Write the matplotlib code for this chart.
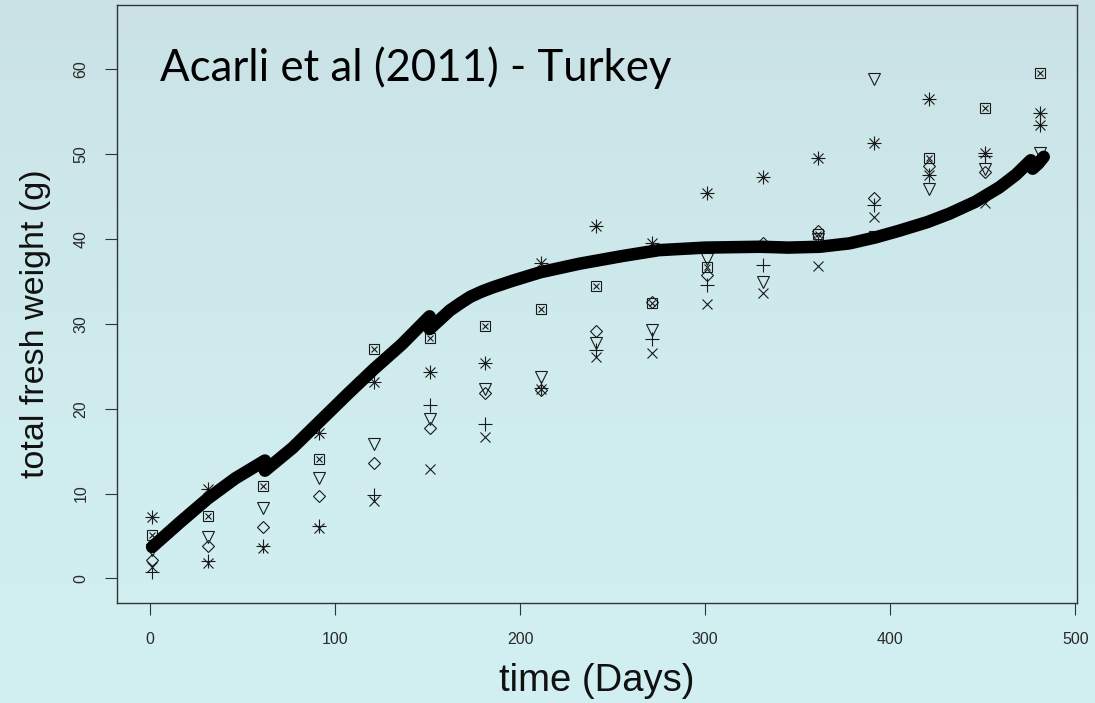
import matplotlib
matplotlib.use("Agg")
import matplotlib.pyplot as plt
import numpy as np

# sampling days (monthly)
days = [1, 31, 61, 91, 121, 151, 181, 211, 241, 271, 301, 331, 361, 391, 421, 451, 481]

# six groups, one per plotting symbol
w_star = [7.2, 10.6, 13.4, 17.2, 23.2, 24.3, 25.4, 37.2, 41.6, 39.5, 45.4, 47.3, 49.6, 51.3, 56.5, 50.2, 54.9]
w_boxx = [5.1, 7.4, 10.9, 14.1, 27.1, 28.4, 29.8, 31.8, 34.5, 32.5, 36.7, 39.1, 40.6, 40.4, 49.6, 55.4, 59.6]
w_tri = [3.4, 4.9, 8.3, 11.8, 15.8, 18.8, 22.3, 23.8, 27.8, 29.3, 37.7, 34.9, 40.0, 58.9, 45.9, 48.3, 50.1]
w_diam = [2.2, 3.8, 6.1, 9.7, 13.6, 17.7, 21.9, 22.2, 29.2, 32.6, 35.8, 39.5, 41.0, 44.8, 48.6, 47.9, 49.5]
w_plus = [0.7, 2.0, 3.8, 6.2, 9.8, 20.4, 18.2, 22.4, 26.9, 28.2, 34.6, 37.0, 39.4, 44.0, 47.5, 49.8, 53.5]
w_x = [1.3, 1.8, 3.6, 6.0, 9.1, 12.9, 16.7, 22.3, 26.1, 26.6, 32.3, 33.6, 36.8, 42.6, 47.5, 44.2, 53.5]

# fitted growth curve (nan = break between pieces)
fit_days = [1, 16, 31, 46, 62, np.nan,
            62, 77, 92, 107, 121, 136, 151, np.nan,
            151, 157, 162, 168, 173, 179, 185, 196, 211, 232, 255, 275, 300, 330, 345, 362,
            378, 392, 405, 420, 432, 446, 459, 468, 476, np.nan,
            477, 480, 483]
fit_w = [3.7, 6.6, 9.4, 11.8, 13.9, np.nan,
         12.7, 15.4, 18.6, 21.8, 24.7, 27.6, 30.9, np.nan,
         29.4, 30.6, 31.6, 32.5, 33.2, 33.8, 34.3, 35.1, 36.1, 37.1, 38.0, 38.7, 39.0, 39.1, 39.0, 39.1,
         39.5, 40.2, 41.0, 42.0, 43.0, 44.4, 46.1, 47.6, 49.3, np.nan,
         48.3, 48.9, 49.7]

x_ticks = [0, 100, 200, 300, 400, 500]
y_ticks = [0, 10, 20, 30, 40, 50, 60]

ink = "#1a1a1a"
fig = plt.figure(figsize=(10.95, 7.03), dpi=100)

# soft sea-coloured backdrop
bg = fig.add_axes([0, 0, 1, 1])
grad = np.linspace(0, 1, 256).reshape(-1, 1)
cmap = matplotlib.colors.LinearSegmentedColormap.from_list(
    "sea", ["#cae2e5", "#cfebee", "#d2f0f2"])
bg.imshow(grad, aspect="auto", cmap=cmap, extent=[0, 1, 0, 1])
bg.axis("off")

ax = fig.add_axes([0.1068, 0.1422, 0.8768, 0.8507])
ax.set_facecolor("none")

ms_kw = dict(linestyle="none", markerfacecolor="none", markeredgecolor=ink,
             markeredgewidth=0.8)
ax.plot(days, w_star, marker="+", markersize=9.5, **ms_kw)
ax.plot(days, w_star, marker="x", markersize=7, **ms_kw)
ax.plot(days, w_boxx, marker="s", markersize=6.5, **ms_kw)
ax.plot(days, w_boxx, marker="x", markersize=5, **ms_kw)
ax.plot(days, w_tri, marker="v", markersize=9, **ms_kw)
ax.plot(days, w_diam, marker="D", markersize=6.6, **ms_kw)
ax.plot(days, w_plus, marker="+", markersize=9.5, **ms_kw)
ax.plot(days, w_x, marker="x", markersize=7, **ms_kw)

ax.plot(fit_days, fit_w, color="black", linewidth=9, solid_capstyle="round",
        solid_joinstyle="round")

ax.set_xlim(-18, 501)
ax.set_ylim(-2.9, 67.6)

for s in ax.spines.values():
    s.set_color("#333333")
    s.set_linewidth(1)

tick_font = ["Liberation Sans Narrow", "Liberation Sans", "DejaVu Sans"]
ax.set_xticks(x_ticks)
ax.set_yticks(y_ticks)
ax.tick_params(axis="both", direction="out", length=8.5, width=0.8,
               color="#333333", labelcolor="#2a2a2a", labelsize=11.5, pad=12)
for lab in ax.get_xticklabels():
    lab.set_family(tick_font)
for lab in ax.get_yticklabels():
    lab.set_family(tick_font)
    lab.set_rotation(90)
    lab.set_va("center")

ax.set_xlabel("time (Days)", fontsize=27.5, family=tick_font, color="#111111")
ax.set_ylabel("total fresh weight (g)", fontsize=24.5, family=tick_font,
              color="#111111")
ax.xaxis.set_label_coords(0.5, -0.1)
ax.yaxis.set_label_coords(-0.069, 0.467)

ax.text(0.045, 0.895, "Acarli et al (2011) - Turkey", transform=ax.transAxes,
        fontsize=31.5, family=["Lato", "DejaVu Sans"], color="black",
        ha="left", va="center")

fig.savefig("out.png", dpi=100)
